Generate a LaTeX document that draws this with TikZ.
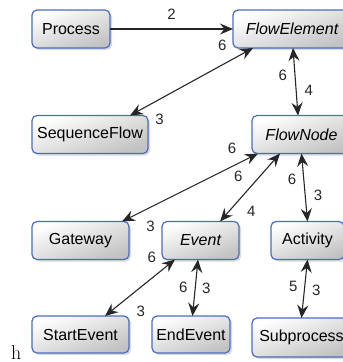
\documentclass[tikz,border=0pt]{standalone}
\usepackage{fontspec}
\usepackage{tikz}
\usetikzlibrary{arrows.meta, shadows}

\newfontfamily\boxfont{Liberation Sans}
\definecolor{boxblue}{HTML}{4A6CC0}

\begin{document}
\begin{tikzpicture}[
  x=1pt, y=-1pt,
  box/.style={
    draw=boxblue,
    line width=1.2pt,
    rounded corners=5pt,
    minimum height=38pt,
    inner sep=0pt,
    outer sep=0pt,
    top color=white,
    bottom color=black!24,
    shading angle=20,
    drop shadow={opacity=0.3, shadow xshift=2pt, shadow yshift=-2pt},
    font=\boxfont\fontsize{16}{19}\selectfont,
    text centered
  },
  abstract/.style={
    box,
    font=\boxfont\itshape\fontsize{16}{19}\selectfont
  },
  lbl/.style={
    font=\boxfont\fontsize{15}{17}\selectfont,
    inner sep=1.5pt
  },
  arr/.style={
    -{Stealth[length=13pt, width=11pt, inset=4.5pt]},
    line width=1.1pt,
    black!85
  },
  darr/.style={
    arr,
    {Stealth[length=13pt, width=11pt, inset=4.5pt]}-{Stealth[length=13pt, width=11pt, inset=4.5pt]}
  }
]

\clip (0,0) rectangle (343,362);

\node [box, minimum width=78pt] (process) at (71,29) {Process};
\node [abstract, minimum width=118pt] (flowelem) at (292,29) {FlowElement};
\node [box, minimum width=116pt] (seqflow) at (90,134.5) {SequenceFlow};
\node [abstract, minimum width=99pt] (flownode) at (301.5,134.5) {FlowNode};
\node [box, minimum width=97pt] (gateway) at (80.5,240.5) {Gateway};
\node [abstract, minimum width=77pt] (event) at (200.5,240.5) {Event};
\node [box, minimum width=73pt] (activity) at (307.5,240.5) {Activity};
\node [box, minimum width=97pt, minimum height=37pt] (startev) at (80.5,334.5) {StartEvent};
\node [box, minimum width=78pt, minimum height=37pt] (endev) at (191,334.5) {EndEvent};
\node [box, minimum width=99pt, minimum height=39pt] (subproc) at (301.5,337.5) {Subprocess};

\node [anchor=base west, inner sep=0pt, font=\fontsize{20}{23}\selectfont] (hmark) at (11,359) {h};

\draw [arr] (process.east) -- (flowelem.west)
  node [lbl, midway, above=7pt] {2};

\draw [darr] ([xshift=20pt]flowelem.south west) -- ([xshift=-18pt]seqflow.north east)
  node [lbl, pos=0.25, above=12.5pt] {6}
  node [lbl, pos=0.76, below=13pt] {3};

\draw [darr] ([xshift=1pt]flowelem.south) -- ([xshift=-3.5pt]flownode.north)
  node [lbl, pos=0.4, left=6pt] {6}
  node [lbl, pos=0.63, right=6.4pt] {4};

\draw [darr] ([xshift=6pt]flownode.south west) -- ([xshift=-7pt]gateway.north east)
  node [lbl, pos=0.19, above=10.5pt] {6}
  node [lbl, pos=0.79, below=12pt] {3};

\draw [darr] ([xshift=28pt]flownode.south west) -- ([xshift=-19pt]event.north east)
  node [lbl, pos=0.34, left=15pt] {6}
  node [lbl, pos=0.85, right=16pt] {4};

\draw [darr] (flownode.south) -- (activity.north)
  node [lbl, pos=0.38, left=5.6pt] {6}
  node [lbl, pos=0.61, right=6.6pt] {3};

\draw [darr] ([xshift=13pt]event.south west) -- ([xshift=-24pt]startev.north east)
  node [lbl, pos=0.33, above=13pt] {6}
  node [lbl, pos=0.49, below=16.5pt] {3};

\draw [darr] ([xshift=-2.5pt]event.south) -- ([xshift=1.5pt]endev.north)
  node [lbl, pos=0.49, left=5.7pt] {6}
  node [lbl, pos=0.51, right=4.8pt] {3};

\draw [darr] (activity.south) -- (subproc.north)
  node [lbl, pos=0.46, left=5.3pt] {5}
  node [lbl, pos=0.53, right=5.7pt] {3};

\end{tikzpicture}
\end{document}
